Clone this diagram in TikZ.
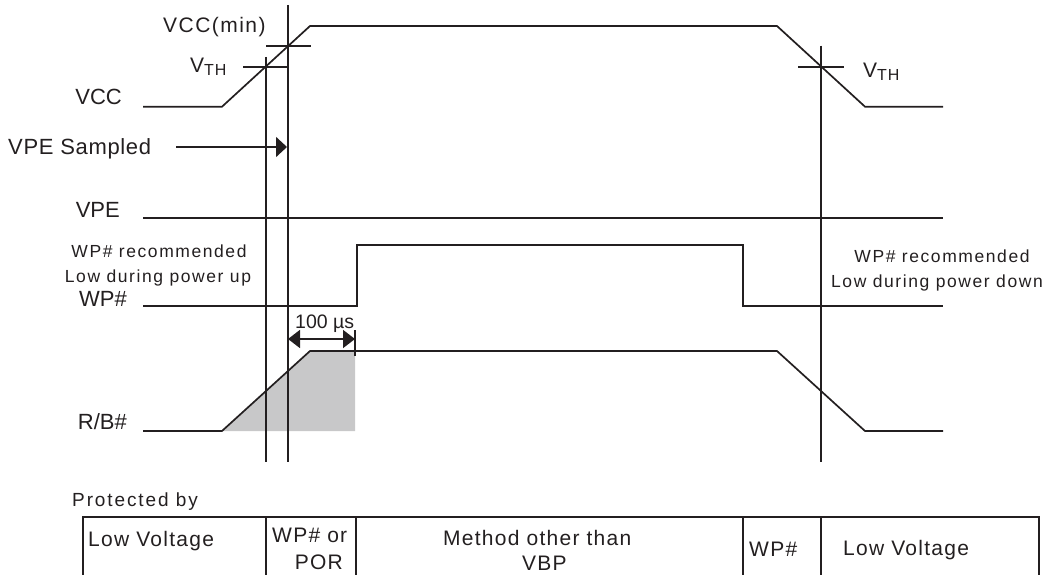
\documentclass[tikz,border=0pt]{standalone}
\usepackage{fontspec}
\setmainfont{Liberation Sans}
\usetikzlibrary{arrows.meta}
\definecolor{ink}{HTML}{231F20}
\definecolor{greyfill}{HTML}{C8C8C9}
\begin{document}
\begin{tikzpicture}[x=1pt,y=-1pt,
  wave/.style={draw=ink, line width=1.7pt, line join=miter},
  vline/.style={draw=ink, line width=1.7pt},
  tick/.style={draw=ink, line width=1.7pt},
  tbl/.style={draw=ink, line width=1.3pt},
  lbl/.style={text=ink, inner sep=0pt, font=\fontsize{22}{24}\selectfont},
  note/.style={text=ink, inner sep=0pt, font=\fontsize{17.5}{20}\selectfont\addfontfeatures{LetterSpace=9}},
  cell/.style={text=ink, inner sep=0pt, font=\fontsize{21}{23}\selectfont\addfontfeatures{LetterSpace=6}},
  bigtip/.style={-{Triangle[length=11pt,width=20pt]}},
  dimtip/.style={{Triangle[length=12pt,width=18pt]}-{Triangle[length=12pt,width=18pt]}}
]
\useasboundingbox (0,0) rectangle (1049,575);

% shaded area under R/B#
\fill[greyfill] (222,431) -- (310,351) -- (355,351) -- (355,431) -- cycle;

% waveforms
\draw[wave] (143,106.7) -- (222,106.7) -- (310,26) -- (777,26) -- (865,106.7) -- (943,106.7);
\draw[wave] (143,218) -- (943,218);
\draw[wave] (143,306) -- (357,306) -- (357,245) -- (743,245) -- (743,306) -- (943,306);
\draw[wave] (143,431) -- (222,431) -- (310,351) -- (777,351) -- (865,431) -- (943,431);

% vertical markers
\draw[vline] (266,57) -- (266,462);
\draw[vline] (288,5) -- (288,462);
\draw[vline] (821,45.7) -- (821,462);

% threshold ticks
\draw[tick] (243,66.7) -- (289,66.7);
\draw[tick] (266,46) -- (311,46);
\draw[tick] (798,66.7) -- (844,66.7);
\draw[tick] (355,330) -- (355,356);

% arrows
\draw[draw=ink, line width=1.6pt, bigtip, fill=ink] (176,147) -- (287,147);
\draw[draw=ink, line width=1.6pt, dimtip, fill=ink] (288,339) -- (355,339);

% signal labels
\node[lbl, anchor=base east] (lvcc) at (122,105) {VCC};
\node[lbl, anchor=base west] (lsamp) at (8,154) {\addfontfeatures{LetterSpace=3}VPE Sampled};
\node[lbl, anchor=base east] (lvpe) at (120,217) {VPE};
\node[lbl, anchor=base east] (lwp) at (127,306) {WP\#};
\node[lbl, anchor=base east] (lrb) at (127,429) {R/B\#};

\node[text=ink, inner sep=0pt, anchor=base west, font=\fontsize{21}{23}\selectfont\addfontfeatures{LetterSpace=7}] (lvmin) at (163,33) {VCC(min)};
\node[text=ink, inner sep=0pt, anchor=base west, font=\fontsize{21}{23}\selectfont] (lvth1) at (190,73) {V\raisebox{-2.7pt}{\fontsize{16}{16}\selectfont\addfontfeatures{LetterSpace=5}TH}};
\node[text=ink, inner sep=0pt, anchor=base west, font=\fontsize{21}{23}\selectfont] (lvth2) at (863,78) {V\raisebox{-2.7pt}{\fontsize{16}{16}\selectfont\addfontfeatures{LetterSpace=5}TH}};
\node[text=ink, inner sep=0pt, anchor=base west, font=\fontsize{19.5}{21}\selectfont] (l100) at (295,328) {100 µs};

% notes
\node[note, anchor=base] (nup1) at (159,257) {WP\# recommended};
\node[note, anchor=base] (nup2) at (158,282) {Low during power up};
\node[note, anchor=base] (ndn1) at (942,262) {WP\# recommended};
\node[note, anchor=base] (ndn2) at (937,287) {Low during power down};

% protection table
\node[text=ink, inner sep=0pt, anchor=base west, font=\fontsize{19}{21}\selectfont\addfontfeatures{LetterSpace=10}] (lprot) at (72,506.5) {Protected by};
\draw[tbl] (83,575) -- (83,517) -- (1039,517) -- (1039,575);
\draw[tbl] (266,517) -- (266,575);
\draw[tbl] (356,517) -- (356,575);
\draw[tbl] (743,517) -- (743,575);
\draw[tbl] (821,517) -- (821,575);

\node[cell, anchor=base west] (c1) at (88,546) {Low Voltage};
\node[cell, anchor=base west] (c2a) at (272,542) {WP\# or};
\node[cell, anchor=base east] (c2b) at (343,569) {POR};
\node[cell, anchor=base west] (c3a) at (443,545) {Method other than};
\node[cell, anchor=base west] (c3b) at (522,570) {VBP};
\node[cell, anchor=base west] (c4) at (749,556) {WP\#};
\node[cell, anchor=base west] (c5) at (843,555) {Low Voltage};
\end{tikzpicture}
\end{document}
